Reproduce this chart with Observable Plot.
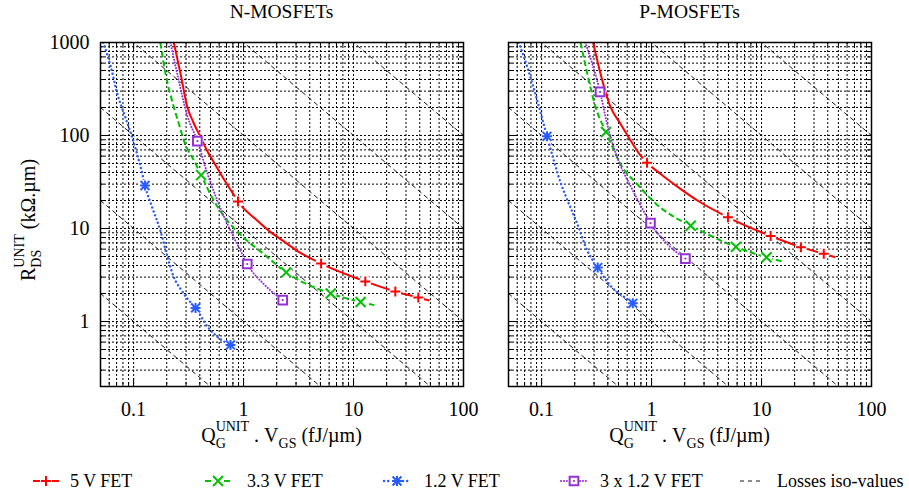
<!DOCTYPE html>
<html><head><meta charset="utf-8">
<script src="https://cdn.jsdelivr.net/npm/d3@7"></script>
<script src="https://cdn.jsdelivr.net/npm/@observablehq/plot@0.6"></script>
<style>
html,body{margin:0;padding:0;background:#fff;}
#chart{position:relative;width:909px;height:497px;overflow:hidden;background:#fff;}
#chart svg{position:absolute;top:0;}
</style></head>
<body><div id="chart"></div>
<script>
// ---------- data ----------
const panelTitles = ["N-MOSFETs", "P-MOSFETs"];
const seriesNames = ["5 V FET", "3.3 V FET", "1.2 V FET", "3 x 1.2 V FET"];
const isoName = "Losses iso-values";
const xDomain = [0.05, 100];
const yDomain = [0.2, 1000];
const xTickLabels = [0.1, 1, 10, 100];
const yTickLabels = [1, 10, 100, 1000];
const isoValues = [0.1, 1, 10, 100, 1000, 10000];
const decades = [0.01, 0.1, 1, 10, 100];
const multiples = [1, 2, 3, 4, 5, 6, 7, 8, 9];

// N-MOSFETs
const n5Curve = [[0.232,1000],[0.267,465],[0.307,205],[0.35,138],[0.42,89],[0.467,68],[0.52,55],[0.66,34],[0.815,23],[0.89,19.5],[1.33,12.2],[1.75,9.2],[2.2,7.6],[3.15,5.65],[5.07,4.2],[12.8,2.7],[24,2.1],[38.8,1.81],[49,1.68]];
const n5Points = [[0.89,19.5],[5.07,4.2],[12.8,2.7],[24,2.1],[38.8,1.81]];
const n33Curve = [[0.175,1000],[0.195,465],[0.232,203],[0.258,134],[0.286,89],[0.366,50],[0.411,37.5],[0.536,20],[0.709,12.2],[1.0,8.0],[1.53,5.3],[2.44,3.37],[6.2,2.0],[11.6,1.62],[15.5,1.5]];
const n33Points = [[0.411,37.5],[2.44,3.37],[6.2,2.0],[11.6,1.62]];
const n12Curve = [[0.053,1000],[0.062,548],[0.071,283],[0.084,158],[0.1,85],[0.118,42],[0.127,29],[0.15,16],[0.175,9.5],[0.2,5.3],[0.232,3.0],[0.27,2.2],[0.31,1.75],[0.366,1.4],[0.47,0.88],[0.6,0.66],[0.76,0.56]];
const n12Points = [[0.127,29],[0.366,1.4],[0.76,0.56]];
const n3x12Curve = [[0.216,1000],[0.249,465],[0.307,165],[0.38,87],[0.466,40],[0.6,17.8],[0.76,9.5],[0.937,5.8],[1.08,4.15],[1.53,2.52],[2.27,1.7]];
const n3x12Points = [[0.38,87],[1.08,4.15],[2.27,1.7]];

// P-MOSFETs
const p5Curve = [[0.294,1000],[0.343,465],[0.423,203],[0.521,134],[0.643,89],[0.793,61],[0.91,51],[1.2,38.8],[1.83,26.7],[2.7,19.5],[4.95,13.2],[12.1,8.3],[22.8,6.3],[36.8,5.35],[47,4.9]];
const p5Points = [[0.91,51],[4.95,13.2],[12.1,8.3],[22.8,6.3],[36.8,5.35]];
const p33Curve = [[0.226,1000],[0.26,465],[0.309,203],[0.385,109],[0.54,46],[0.74,30],[1.12,18],[1.5,14],[2.27,10.7],[5.85,6.35],[11.1,4.9],[15.9,4.4]];
const p33Points = [[0.385,109],[2.27,10.7],[5.85,6.35],[11.1,4.9]];
const p12Curve = [[0.062,1000],[0.074,548],[0.091,240],[0.112,98],[0.129,54],[0.149,31],[0.165,22.6],[0.211,11.2],[0.26,5.8],[0.324,3.8],[0.44,2.3],[0.558,1.85],[0.675,1.57]];
const p12Points = [[0.112,98],[0.324,3.8],[0.675,1.57]];
const p3x12Curve = [[0.25,1000],[0.34,294],[0.394,134],[0.486,58.6],[0.65,28],[0.8,17.5],[0.977,11.4],[1.39,6.8],[2.03,4.75]];
const p3x12Points = [[0.34,294],[0.977,11.4],[2.03,4.75]];

// ---------- styles ----------
const FONT = '"Liberation Serif", "Times New Roman", "DejaVu Serif", serif';
const styles = [
  {color: "#ff0000", width: 2, dash: null, cap: "butt", marker: "plus"},
  {color: "#00c000", width: 2, dash: "6,3", cap: "butt", marker: "times"},
  {color: "#2a5bff", width: 2.4, dash: "0.1,4", cap: "round", marker: "asterisk"},
  {color: "#9430d8", width: 2, dash: "0.1,2.8", cap: "round", marker: "square"}
];
const panels = [
  {curves: [n5Curve, n33Curve, n12Curve, n3x12Curve], points: [n5Points, n33Points, n12Points, n3x12Points]},
  {curves: [p5Curve, p33Curve, p12Curve, p3x12Curve], points: [p5Points, p33Points, p12Points, p3x12Points]}
];

const X = d => d[0], Y = d => d[1];
const within = (v, [a, b]) => v >= a * 0.9999 && v <= b * 1.0001;
const allX = decades.flatMap(d => multiples.map(m => +(d * m).toPrecision(3))).filter(v => within(v, xDomain));
const allY = decades.flatMap(d => multiples.map(m => +(d * m).toPrecision(3))).filter(v => within(v, yDomain));
const isMajor = v => Math.abs(Math.log10(v) - Math.round(Math.log10(v))) < 1e-6;
const majorX = allX.filter(isMajor), minorX = allX.filter(v => !isMajor(v));
const majorY = allY.filter(isMajor), minorY = allY.filter(v => !isMajor(v));

const PW = 363, PH = 344, MT = 42, MB = 34;
const fmt = d3.format("~g");

function markerMarks(pts, st) {
  const o = {x: X, y: Y, stroke: st.color, strokeWidth: 2, fill: "none"};
  if (st.marker === "plus") return [Plot.dot(pts, {...o, symbol: "plus", r: 3.3})];
  if (st.marker === "times") return [Plot.dot(pts, {...o, symbol: "times", r: 4.6})];
  if (st.marker === "asterisk") return [Plot.dot(pts, {...o, symbol: "plus", r: 3.3}), Plot.dot(pts, {...o, symbol: "times", r: 4.1})];
  return [Plot.dot(pts, {...o, symbol: "square", r: 4.9, fill: "white"}), Plot.dot(pts, {x: X, y: Y, r: 1.1, fill: st.color})];
}

function panel(p, {width, marginLeft, marginRight, yAxis}) {
  const grid = {stroke: "#000", strokeOpacity: 1, strokeWidth: 1, strokeDasharray: "2,2"};
  const tick = {stroke: "#000", strokeOpacity: 1, strokeWidth: 1};
  const marks = [
    Plot.gridX(allX, grid),
    Plot.gridY(allY, grid),
    ...isoValues.map(c => Plot.line(xDomain.map(x => [x, c / x]), {x: X, y: Y, stroke: "#000", strokeWidth: 0.9, strokeDasharray: "4,4", clip: true})),
    Plot.gridX(majorX, {...tick, insetTop: PH - 8}),
    Plot.gridX(majorX, {...tick, insetBottom: PH - 8}),
    Plot.gridX(minorX, {...tick, insetTop: PH - 4}),
    Plot.gridX(minorX, {...tick, insetBottom: PH - 4}),
    Plot.gridY(majorY, {...tick, insetRight: PW - 8}),
    Plot.gridY(majorY, {...tick, insetLeft: PW - 8}),
    Plot.gridY(minorY, {...tick, insetRight: PW - 4}),
    Plot.gridY(minorY, {...tick, insetLeft: PW - 4})
  ];
  p.curves.forEach((curve, i) => {
    const st = styles[i];
    marks.push(Plot.line(curve, {x: X, y: Y, stroke: st.color, strokeWidth: st.width, strokeDasharray: st.dash, strokeLinecap: st.cap, curve: "monotone-x", clip: true}));
    marks.push(Plot.dot(p.points[i], {x: X, y: Y, r: 6, fill: "white", stroke: "none"}));
    marks.push(...markerMarks(p.points[i], st));
  });
  marks.push(Plot.frame({stroke: "#000", strokeWidth: 1.5}));
  marks.push(Plot.axisX(xTickLabels, {tickSize: 0, tickPadding: 15, tickFormat: fmt, label: null}));
  if (yAxis) marks.push(Plot.axisY(yTickLabels, {tickSize: 0, tickPadding: 11, tickFormat: fmt, label: null}));
  return Plot.plot({
    width, height: MT + PH + MB,
    marginLeft, marginRight, marginTop: MT, marginBottom: MB,
    x: {type: "log", domain: xDomain, axis: null},
    y: {type: "log", domain: yDomain, axis: null},
    style: {fontFamily: FONT, fontSize: "20px", color: "#000", background: "none", overflow: "visible"},
    marks
  });
}

const chart = document.getElementById("chart");
const left = panel(panels[0], {width: 470, marginLeft: 100, marginRight: 7, yAxis: true});
left.style.left = "0px";
chart.appendChild(left);
const right = panel(panels[1], {width: 471, marginLeft: 70, marginRight: 38, yAxis: false});
right.style.left = "438px";
chart.appendChild(right);

// ---------- overlay text (titles, axis labels, legend) ----------
const ov = d3.select(chart).append("svg").attr("width", 909).attr("height", 497)
  .style("left", "0px").attr("font-family", FONT).style("pointer-events", "none");

function rich(g, parts, size) {
  let cx = 0;
  for (const p of parts) {
    if (typeof p === "string") {
      const t = g.append("text").attr("x", cx).attr("y", 0).attr("font-size", size).text(p);
      cx += t.node().getComputedTextLength();
    } else {
      const ss = size * 0.7;
      let w = 0;
      if (p.sup) { const a = g.append("text").attr("x", cx).attr("y", -size * 0.55).attr("font-size", ss).text(p.sup); w = Math.max(w, a.node().getComputedTextLength()); }
      if (p.sub) { const b = g.append("text").attr("x", cx).attr("y", size * 0.28).attr("font-size", ss).text(p.sub); w = Math.max(w, b.node().getComputedTextLength()); }
      cx += w;
    }
  }
  return cx;
}

const panelCenters = [100 + PW / 2, 508 + PW / 2];
panelTitles.forEach((t, i) => {
  ov.append("text").attr("x", panelCenters[i]).attr("y", 17.5).attr("text-anchor", "middle").attr("font-size", 19.5).text(t);
  const g = ov.append("g");
  const inner = g.append("g");
  const w = rich(inner, ["Q", {sup: "UNIT", sub: "G"}, "\u00a0.\u00a0V", {sub: "GS"}, "\u00a0(fJ/\u00b5m)"], 20);
  g.attr("transform", `translate(${panelCenters[i] - w / 2},442)`);
});
{
  const g = ov.append("g").attr("transform", "translate(35,281) rotate(-90)");
  rich(g, ["R", {sup: "UNIT", sub: "DS"}, "\u00a0(k\u03a9.\u00b5m)"], 20);
}

// legend
const legendY = 481;
const legendPos = [{cx: 46, tx: 70}, {cx: 218, tx: 247}, {cx: 397, tx: 424}, {cx: 574, tx: 600}];
const sym = (type, r) => d3.symbol(type, Math.PI * r * r)();
styles.forEach((st, i) => {
  const {cx, tx} = legendPos[i];
  const g = ov.append("g");
  const lineAttrs = sel => sel.attr("stroke", st.color).attr("stroke-width", st.width)
    .attr("stroke-dasharray", st.dash).attr("stroke-linecap", st.cap).attr("fill", "none");
  lineAttrs(g.append("line").attr("x1", cx - 13).attr("x2", cx - 6).attr("y1", legendY).attr("y2", legendY));
  lineAttrs(g.append("line").attr("x1", cx + 6).attr("x2", cx + 13).attr("y1", legendY).attr("y2", legendY));
  const m = g.append("g").attr("transform", `translate(${cx},${legendY})`)
    .attr("stroke", st.color).attr("stroke-width", 2).attr("fill", "none");
  if (st.marker === "plus") m.append("path").attr("d", sym(d3.symbolPlus, 3.3));
  if (st.marker === "times") m.append("path").attr("d", sym(d3.symbolTimes, 4.6));
  if (st.marker === "asterisk") { m.append("path").attr("d", sym(d3.symbolPlus, 3.3)); m.append("path").attr("d", sym(d3.symbolTimes, 4.1)); }
  if (st.marker === "square") { m.append("path").attr("d", sym(d3.symbolSquare, 4.9)).attr("fill", "white"); m.append("circle").attr("r", 1.1).attr("fill", st.color).attr("stroke", "none"); }
  ov.append("text").attr("x", tx).attr("y", legendY + 6).attr("font-size", 18).text(seriesNames[i]);
});
ov.append("line").attr("x1", 740).attr("x2", 762).attr("y1", legendY).attr("y2", legendY)
  .attr("stroke", "#000").attr("stroke-width", 0.9).attr("stroke-dasharray", "4,4");
ov.append("text").attr("x", 777).attr("y", legendY + 6).attr("font-size", 18).text(isoName);
</script>
</body></html>
